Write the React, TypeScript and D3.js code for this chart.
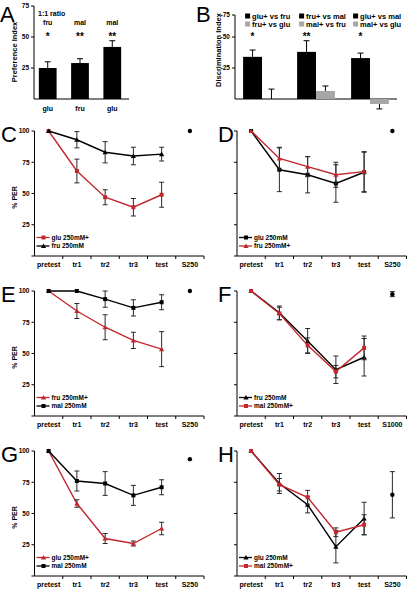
import React from "react";
import * as d3 from "d3";

const FONT = "'Liberation Sans', Arial, Helvetica, sans-serif";
const RED = "#c1272d";
const ERRC = "#2a2a2a";

// ---------- Panel A ----------
const prefTop = ["fru", "mal", "mal"];
const prefBase = ["glu", "fru", "glu"];
const prefStars = ["*", "**", "**"];
const prefValues = [25, 29, 42];
const prefErrors = [5, 3.5, 5];
const prefTicks = [25, 50, 75];

// ---------- Panel B ----------
const discGroups = ["glu-fru", "fru-mal", "glu-mal"];
const discLabelsBlack = ["glu+ vs fru", "fru+ vs mal", "glu+ vs mal"];
const discLabelsGray = ["fru+ vs glu", "mal+ vs fru", "mal+ vs glu"];
const discBlack = [-34, -38, -33];
const discBlackErr = [5.5, 9, 4];
const discGray = [0, -6.5, 4];
const discGrayErr = [8, 4, 4];
const discStars = ["*", "**", "*"];
const discTicks = [-25, -50, -75];

// ---------- Line panels ----------
const stages = ["pretest", "tr1", "tr2", "tr3", "test"];
const pctTicks = [25, 50, 75, 100];

const cGluMean = [100, 68, 47, 39, 49];
const cGluErr = [0, 9.5, 6, 7, 10];
const cFruMean = [100, 93, 83, 80, 81.5];
const cFruErr = [0, 6.5, 8.5, 7, 5.5];
const cRef = ["S250", 100, 0] as const;

const dGluMean = [100, 69, 65, 58, 67];
const dGluErr = [0, 17.5, 14.5, 15, 16];
const dFruMean = [100, 78, 71.5, 65, 67.5];
const dFruErr = [0, 9, 8, 10, 16];
const dRef = ["S250", 100, 0] as const;

const eFruMean = [100, 84, 71, 60.5, 53.5];
const eFruErr = [0, 6, 10, 6.5, 14];
const eMalMean = [100, 100, 93.5, 86.5, 91];
const eMalErr = [0, 0, 6.5, 6.5, 6];
const eRef = ["S250", 100, 0] as const;

const fFruMean = [100, 82.5, 60, 37, 47];
const fFruErr = [0, 5.5, 10, 11, 15];
const fMalMean = [100, 82, 56.5, 35.5, 54.5];
const fMalErr = [0, 5, 6, 5, 9.5];
const fRef = ["S1000", 97.5, 2] as const;

const gGluMean = [100, 58, 30, 26, 38];
const gGluErr = [0, 3, 4, 2, 5];
const gMalMean = [100, 76, 74, 64.5, 71];
const gMalErr = [0, 8, 9.5, 8, 6];
const gRef = ["S250", 93.5, 0] as const;

const hGluMean = [100, 74, 57, 23.5, 46];
const hGluErr = [0, 8, 6.5, 13, 13];
const hMalMean = [100, 73, 63, 35, 41];
const hMalErr = [0, 5, 5.5, 3.5, 8];
const hRef = ["S250", 65, 18.5] as const;

type Series = { name: string; mean: number[]; err: number[]; color: string; marker: "square" | "triangle" };

function Marker({ x, y, type, color }: { x: number; y: number; type: string; color: string }) {
  if (type === "square") return <rect x={x - 2} y={y - 2} width={4} height={4} fill={color} />;
  const s = 2.6;
  return <path d={`M${x},${y - s}L${x + s},${y + s * 0.8}L${x - s},${y + s * 0.8}Z`} fill={color} />;
}

function LinePanel({ x0, yTop, letter, letterX, showY, series, refItem }: any) {
  const cats = [...stages, refItem[0]];
  const x = d3.scaleBand().domain(cats).range([x0, x0 + 169.5]);
  const y = d3.scaleLinear().domain([0, 100]).range([yTop + 125, yTop]);
  const bw = x.bandwidth();
  const cx = (c: string) => (x(c) as number) + bw / 2;
  const line = d3.line<number>().x((_, i) => cx(stages[i])).y((d) => y(d));
  const y0 = y(0);
  return (
    <g>
      <text x={letterX} y={yTop + 11} fontSize={22} fontFamily={FONT}>{letter}</text>
      <line x1={x0} x2={x0} y1={y(100)} y2={y0} stroke="#000" strokeWidth={1} />
      <line x1={x0} x2={x0 + 169.5} y1={y0} y2={y0} stroke="#000" strokeWidth={1} />
      {[0, ...pctTicks].map((t) => (
        <line key={t} x1={x0 - 3} x2={x0} y1={y(t)} y2={y(t)} stroke="#000" />
      ))}
      {showY && pctTicks.map((t) => (
        <text key={t} x={x0 - 5} y={y(t) + 2.3} textAnchor="end" fontSize={6.5} fontWeight="bold" fontFamily={FONT}>{t}</text>
      ))}
      {showY && (
        <text transform={`translate(${x0 - 18},${y(50) + 4}) rotate(-90)`} textAnchor="middle" fontSize={7} fontWeight="bold" fontFamily={FONT}>% PER</text>
      )}
      {cats.map((c, i) => (
        <line key={c} x1={(x(c) as number) + bw} x2={(x(c) as number) + bw} y1={y0} y2={y0 + 3} stroke="#000" />
      ))}
      {cats.map((c) => (
        <text key={c} x={cx(c)} y={y0 + 11} textAnchor="middle" fontSize={7} fontWeight="bold" fontFamily={FONT}>{c}</text>
      ))}
      {series.map((s: Series) => (
        <g key={s.name}>
          <path d={line(s.mean) as string} fill="none" stroke={s.color} strokeWidth={1.4} />
          {s.mean.map((m, i) =>
            s.err[i] > 0 ? (
              <g key={i} stroke={ERRC} strokeWidth={1}>
                <line x1={cx(stages[i])} x2={cx(stages[i])} y1={y(m - s.err[i])} y2={y(m + s.err[i])} />
                <line x1={cx(stages[i]) - 2.5} x2={cx(stages[i]) + 2.5} y1={y(m - s.err[i])} y2={y(m - s.err[i])} />
                <line x1={cx(stages[i]) - 2.5} x2={cx(stages[i]) + 2.5} y1={y(m + s.err[i])} y2={y(m + s.err[i])} />
              </g>
            ) : null
          )}
          {s.mean.map((m, i) => (
            <Marker key={i} x={cx(stages[i])} y={y(m)} type={s.marker} color={s.color} />
          ))}
        </g>
      ))}
      {refItem[2] > 0 && (
        <g stroke={ERRC} strokeWidth={1}>
          <line x1={cx(refItem[0])} x2={cx(refItem[0])} y1={y(refItem[1] - refItem[2])} y2={y(refItem[1] + refItem[2])} />
          <line x1={cx(refItem[0]) - 2.5} x2={cx(refItem[0]) + 2.5} y1={y(refItem[1] - refItem[2])} y2={y(refItem[1] - refItem[2])} />
          <line x1={cx(refItem[0]) - 2.5} x2={cx(refItem[0]) + 2.5} y1={y(refItem[1] + refItem[2])} y2={y(refItem[1] + refItem[2])} />
        </g>
      )}
      <circle cx={cx(refItem[0])} cy={y(refItem[1])} r={2.2} fill="#000" />
      {series.map((s: Series, i: number) => {
        const ly = y0 - 18.5 + i * 8.5;
        return (
          <g key={s.name}>
            <line x1={x0 + 2} x2={x0 + 15} y1={ly} y2={ly} stroke={s.color} strokeWidth={1.3} />
            <Marker x={x0 + 9} y={ly} type={s.marker} color={s.color} />
            <text x={x0 + 17} y={ly + 2.3} fontSize={6.5} fontWeight="bold" fontFamily={FONT}>{s.name}</text>
          </g>
        );
      })}
    </g>
  );
}

function PanelA() {
  const x = d3.scaleBand<number>().domain([0, 1, 2]).range([34, 126]).paddingInner(0.45).paddingOuter(0.15);
  const y = d3.scaleLinear().domain([0, 75]).range([99, 6]);
  const bw = x.bandwidth();
  return (
    <g>
      <text x={0} y={22} fontSize={22} fontFamily={FONT}>A</text>
      <line x1={34} x2={34} y1={y(75)} y2={y(0)} stroke="#000" />
      <line x1={34} x2={129} y1={y(0)} y2={y(0)} stroke="#000" />
      {prefTicks.map((t) => (
        <g key={t}>
          <line x1={31} x2={34} y1={y(t)} y2={y(t)} stroke="#000" />
          <text x={29} y={y(t) + 2.3} textAnchor="end" fontSize={6.5} fontWeight="bold" fontFamily={FONT}>{t}</text>
        </g>
      ))}
      <text transform={`translate(17,${52}) rotate(-90)`} textAnchor="middle" fontSize={7.5} fontWeight="bold" fontFamily={FONT}>Preference Index</text>
      <text x={38} y={16} fontSize={7} fontWeight="bold" fontFamily={FONT}>1:1 ratio</text>
      {prefValues.map((v, i) => {
        const xc = (x(i) as number) + bw / 2;
        return (
          <g key={i}>
            <rect x={x(i)} y={y(v)} width={bw} height={y(0) - y(v)} fill="#000" />
            <line x1={xc} x2={xc} y1={y(v)} y2={y(v + prefErrors[i])} stroke="#000" />
            <line x1={xc - 3} x2={xc + 3} y1={y(v + prefErrors[i])} y2={y(v + prefErrors[i])} stroke="#000" />
            <text x={xc} y={25} textAnchor="middle" fontSize={7} fontWeight="bold" fontFamily={FONT}>{prefTop[i]}</text>
            <text x={xc} y={40} textAnchor="middle" fontSize={10} fontWeight="bold" fontFamily={FONT}>{prefStars[i]}</text>
            <text x={xc} y={111} textAnchor="middle" fontSize={7} fontWeight="bold" fontFamily={FONT}>{prefBase[i]}</text>
          </g>
        );
      })}
    </g>
  );
}

function PanelB() {
  const x = d3.scaleBand().domain(discGroups).range([235, 397]).paddingInner(0.3).paddingOuter(0.15);
  const sub = d3.scaleBand().domain(["black", "gray"]).range([0, x.bandwidth()]);
  const y = d3.scaleLinear().domain([0, -50, -75]).range([99, 37, 15]);
  const sw = sub.bandwidth();
  const bar = (g: string, kind: string, v: number, e: number, fill: string) => {
    const bx = (x(g) as number) + (sub(kind) as number);
    const xc = bx + sw / 2;
    const tip = v <= 0 ? v - e : v + e;
    return (
      <g key={g + kind}>
        <line x1={xc} x2={xc} y1={y(v)} y2={y(tip)} stroke="#000" />
        <line x1={xc - 3} x2={xc + 3} y1={y(tip)} y2={y(tip)} stroke="#000" />
        {v !== 0 && <rect x={bx} y={Math.min(y(v), y(0))} width={sw} height={Math.abs(y(v) - y(0))} fill={fill} />}
      </g>
    );
  };
  return (
    <g>
      <text x={196} y={22} fontSize={22} fontFamily={FONT}>B</text>
      <line x1={235} x2={235} y1={y(-75)} y2={y(0)} stroke="#000" />
      <line x1={235} x2={397} y1={y(0)} y2={y(0)} stroke="#000" />
      {discTicks.map((t) => (
        <g key={t}>
          <line x1={232} x2={235} y1={y(t)} y2={y(t)} stroke="#000" />
          <text x={230} y={y(t) + 2.3} textAnchor="end" fontSize={6.5} fontWeight="bold" fontFamily={FONT}>{t}</text>
        </g>
      ))}
      <text transform={`translate(221,${50}) rotate(-90)`} textAnchor="middle" fontSize={7.5} fontWeight="bold" fontFamily={FONT}>Discrimination Index</text>
      {discGroups.map((g, i) => (
        <g key={g}>
          {bar(g, "black", discBlack[i], discBlackErr[i], "#000")}
          {bar(g, "gray", discGray[i], discGrayErr[i], "#a6a6a6")}
          <rect x={(x(g) as number) + 2} y={13.5} width={5} height={5} fill="#000" />
          <text x={(x(g) as number) + 9} y={18.5} fontSize={7.5} fontWeight="bold" fontFamily={FONT}>{discLabelsBlack[i]}</text>
          <rect x={(x(g) as number) + 2} y={21.5} width={5} height={5} fill="#a6a6a6" />
          <text x={(x(g) as number) + 9} y={26.5} fontSize={7.5} fontWeight="bold" fontFamily={FONT}>{discLabelsGray[i]}</text>
          <text x={(x(g) as number) + (sub("black") as number) + sw / 2} y={40} textAnchor="middle" fontSize={10} fontWeight="bold" fontFamily={FONT}>{discStars[i]}</text>
        </g>
      ))}
    </g>
  );
}

const s = (name: string, mean: number[], err: number[], color: string, marker: "square" | "triangle"): Series => ({ name, mean, err, color, marker });

export default function App() {
  const L = 34.5;
  const R = 237;
  return (
    <svg width={408} height={589} style={{ position: "absolute", left: 0, top: 0, background: "#fff" }}>
      <rect width={408} height={589} fill="#fff" />
      <PanelA />
      <PanelB />
      <LinePanel x0={L} yTop={131} letter="C" letterX={1} showY refItem={cRef}
        series={[s("glu 250mM+", cGluMean, cGluErr, RED, "square"), s("fru 250mM", cFruMean, cFruErr, "#000", "triangle")]} />
      <LinePanel x0={R} yTop={131} letter="D" letterX={218} showY={false} refItem={dRef}
        series={[s("glu 250mM", dGluMean, dGluErr, "#000", "square"), s("fru 250mM+", dFruMean, dFruErr, RED, "triangle")]} />
      <LinePanel x0={L} yTop={291} letter="E" letterX={1} showY refItem={eRef}
        series={[s("fru 250mM+", eFruMean, eFruErr, RED, "triangle"), s("mal 250mM", eMalMean, eMalErr, "#000", "square")]} />
      <LinePanel x0={R} yTop={291} letter="F" letterX={218} showY={false} refItem={fRef}
        series={[s("fru 250mM", fFruMean, fFruErr, "#000", "triangle"), s("mal 250mM+", fMalMean, fMalErr, RED, "square")]} />
      <LinePanel x0={L} yTop={451} letter="G" letterX={1} showY refItem={gRef}
        series={[s("glu 250mM+", gGluMean, gGluErr, RED, "triangle"), s("mal 250mM", gMalMean, gMalErr, "#000", "square")]} />
      <LinePanel x0={R} yTop={451} letter="H" letterX={218} showY={false} refItem={hRef}
        series={[s("glu 250mM", hGluMean, hGluErr, "#000", "triangle"), s("mal 250mM+", hMalMean, hMalErr, RED, "square")]} />
    </svg>
  );
}
